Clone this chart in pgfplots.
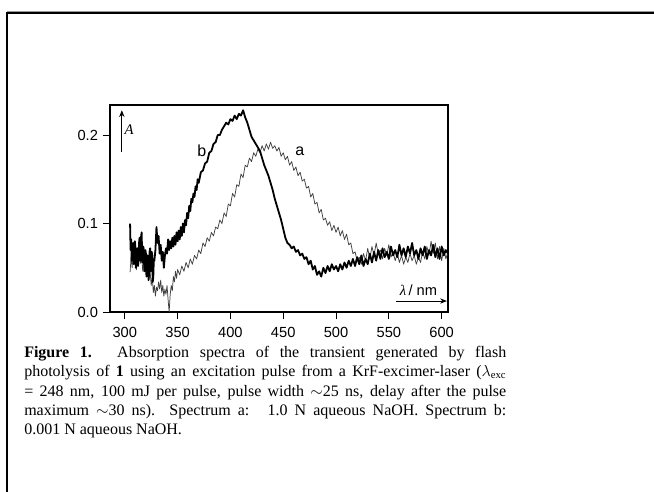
\documentclass[border=0pt]{standalone}
\usepackage{pgfplots}
\pgfplotsset{compat=1.18}
\usepackage{fontspec}
\setmainfont{Liberation Serif}
\newfontfamily\sansf{Liberation Sans}
\usetikzlibrary{arrows.meta}

\pgfplotstableread{
x y
305 0.045
306 0.062
307 0.050
308 0.072
309 0.058
310 0.066
311 0.048
312 0.060
313 0.052
314 0.070
315 0.055
316 0.064
317 0.046
318 0.058
319 0.050
320 0.062
321 0.045
322 0.054
323 0.038
324 0.046
325 0.030
326 0.040
327 0.022
328 0.030
329 0.018
330 0.028
331 0.024
332 0.034
333 0.026
334 0.036
335 0.022
336 0.030
337 0.018
338 0.026
339 0.020
340 0.030
341 0.014
342 0.000
343 0.020
344 0.030
345 0.024
346 0.040
347 0.034
348 0.046
349 0.038
350 0.048
352 0.042
354 0.052
356 0.046
358 0.056
360 0.050
362 0.060
364 0.054
366 0.064
368 0.060
370 0.070
372 0.066
374 0.078
376 0.074
378 0.084
380 0.080
382 0.090
384 0.086
386 0.096
388 0.094
390 0.104
392 0.100
394 0.112
396 0.108
398 0.122
400 0.120
402 0.134
404 0.130
406 0.144
408 0.142
410 0.156
412 0.152
414 0.166
416 0.164
418 0.174
420 0.170
422 0.180
424 0.176
426 0.184
428 0.180
430 0.188
432 0.182
434 0.190
436 0.184
438 0.192
440 0.185
442 0.188
444 0.182
446 0.186
448 0.176
450 0.180
452 0.172
454 0.176
456 0.166
458 0.170
460 0.160
462 0.164
464 0.154
466 0.158
468 0.148
470 0.150
472 0.140
474 0.142
476 0.130
478 0.134
480 0.122
482 0.124
484 0.112
486 0.116
488 0.104
490 0.106
492 0.098
494 0.102
496 0.092
498 0.098
500 0.090
502 0.096
504 0.086
506 0.092
508 0.082
510 0.088
512 0.076
514 0.078
516 0.066
518 0.068
520 0.058
522 0.062
524 0.054
526 0.066
528 0.058
530 0.072
532 0.060
534 0.074
536 0.064
538 0.078
540 0.066
542 0.070
544 0.060
546 0.072
548 0.064
550 0.076
552 0.062
554 0.068
556 0.058
558 0.066
560 0.056
562 0.064
564 0.054
566 0.062
568 0.056
570 0.066
572 0.058
574 0.064
576 0.054
578 0.062
580 0.056
582 0.068
584 0.060
586 0.074
588 0.064
590 0.080
592 0.066
594 0.078
596 0.060
598 0.074
600 0.058
602 0.072
604 0.060
606 0.068
}\specA

\pgfplotstableread{
x y
305 0.100
305.5 0.070
306 0.082
306.5 0.058
307 0.060
307.5 0.076
308 0.078
308.5 0.054
309 0.064
309.5 0.080
310 0.074
310.5 0.050
311 0.056
311.5 0.070
312 0.072
312.5 0.052
313 0.060
313.5 0.078
314 0.084
314.5 0.058
315 0.066
315.5 0.086
316 0.090
316.5 0.056
317 0.062
317.5 0.074
318 0.070
318.5 0.046
319 0.052
319.5 0.070
320 0.066
320.5 0.040
321 0.048
321.5 0.064
322 0.060
322.5 0.036
323 0.044
323.5 0.068
324 0.072
324.5 0.046
325 0.050
325.5 0.068
326 0.064
326.5 0.034
327 0.040
327.5 0.060
328 0.058
329 0.070
330 0.096
331 0.078
332 0.086
333 0.066
334 0.076
335 0.058
336 0.068
337 0.050
338 0.064
339 0.072
340 0.066
341 0.082
342 0.070
343 0.080
344 0.072
345 0.084
346 0.074
347 0.086
348 0.076
349 0.090
350 0.080
351 0.092
352 0.082
353 0.096
354 0.086
355 0.100
356 0.090
357 0.104
358 0.098
359 0.112
360 0.106
361 0.120
362 0.114
363 0.128
364 0.124
365 0.134
366 0.130
367 0.142
368 0.138
369 0.150
370 0.146
372 0.158
374 0.160
376 0.168
378 0.170
380 0.180
382 0.182
384 0.190
386 0.192
388 0.200
390 0.200
392 0.206
394 0.210
396 0.214
398 0.212
400 0.218
402 0.216
404 0.222
406 0.218
408 0.224
410 0.222
412 0.228
414 0.220
416 0.214
418 0.206
420 0.198
422 0.194
424 0.190
426 0.186
428 0.182
430 0.174
432 0.166
434 0.160
436 0.154
438 0.146
440 0.138
442 0.128
444 0.120
446 0.112
448 0.104
450 0.094
452 0.084
454 0.078
456 0.076
458 0.072
460 0.074
462 0.068
464 0.070
466 0.064
468 0.066
470 0.060
472 0.062
474 0.054
476 0.058
478 0.048
480 0.052
482 0.042
484 0.046
486 0.040
488 0.050
490 0.044
492 0.052
494 0.046
496 0.054
498 0.048
500 0.052
502 0.046
504 0.054
506 0.048
508 0.056
510 0.050
512 0.058
514 0.052
516 0.060
518 0.052
520 0.062
522 0.054
524 0.064
526 0.052
528 0.060
530 0.054
532 0.066
534 0.056
536 0.068
538 0.058
540 0.070
542 0.060
544 0.072
546 0.062
548 0.068
550 0.060
552 0.074
554 0.064
556 0.070
558 0.062
560 0.076
562 0.064
564 0.072
566 0.062
568 0.074
570 0.066
572 0.078
574 0.064
576 0.070
578 0.060
580 0.072
582 0.064
584 0.074
586 0.060
588 0.070
590 0.064
592 0.076
594 0.062
596 0.072
598 0.060
600 0.074
602 0.064
604 0.070
606 0.066
}\specB

\begin{document}
\begin{tikzpicture}
\useasboundingbox (0,0) rectangle (490.5pt,369pt);
\fill[white] (0,0) rectangle (490.5pt,369pt);
\draw[black!40, line width=0.6pt] (5pt,360.6pt) -- (491pt,360.6pt);
\draw[line width=1.7pt] (5.4pt,-1pt) -- (5.4pt,359.25pt) -- (491pt,359.25pt);
\begin{axis}[
  at={(82.5pt,135pt)}, anchor=south west,
  scale only axis, width=253.5pt, height=155.25pt,
  xmin=286, xmax=606, ymin=0, ymax=0.234,
  axis line style={line width=1.2pt},
  tick pos=left, tick align=outside,
  major tick length=5.5pt,
  every tick/.style={black, line width=0.7pt},
  xtick={300,350,400,450,500,550,600},
  xticklabels={300,350,400,450,500,550,600},
  ytick={0,0.1,0.2},
  yticklabels={0.0,0.1,0.2},
  ticklabel style={font=\sansf\fontsize{11}{12}\selectfont},
  xticklabel style={yshift=-2.5pt},
  clip=true,
]
\addplot[line width=0.55pt, black!75, line join=round] table[x=x,y=y] {\specA};
\addplot[line width=1.35pt, black, line join=round] table[x=x,y=y] {\specB};
\draw[-{Stealth[length=5pt,width=4pt]}, line width=0.7pt] (axis cs:297.2,0.181) -- (axis cs:297.2,0.228);
\node[font=\itshape\fontsize{11}{12}\selectfont, anchor=west, inner sep=0] at (axis cs:299.5,0.206) {A};
\node[font=\sansf\fontsize{12}{12}\selectfont] at (axis cs:373,0.182) {b};
\node[font=\sansf\fontsize{12}{12}\selectfont] at (axis cs:465.7,0.182) {a};
\node[font=\fontsize{11}{12}\selectfont, inner sep=0] at (axis cs:578,0.025) {\textit{λ}\,{\sansf / nm}};
\draw[-{Stealth[length=5pt,width=4pt]}, line width=0.6pt] (axis cs:556.6,0.0124) -- (axis cs:604.9,0.0124);
\end{axis}
\node[anchor=north west, inner sep=0, text width=361.5pt, align=justify, font=\fontsize{12}{14.6}\selectfont] at (18pt,109.8pt) {\textbf{Figure 1.} Absorption spectra of the transient generated by flash\linebreak photolysis of \textbf{1} using an excitation pulse from a KrF-excimer-laser ($\lambda_{\mathrm{exc}}$\linebreak = 248 nm, 100 mJ per pulse, pulse width $\sim$25 ns, delay after the pulse\linebreak maximum $\sim$30 ns). Spectrum a: \ 1.0 N aqueous NaOH. Spectrum b:\linebreak 0.001 N aqueous NaOH.};
\end{tikzpicture}
\end{document}
